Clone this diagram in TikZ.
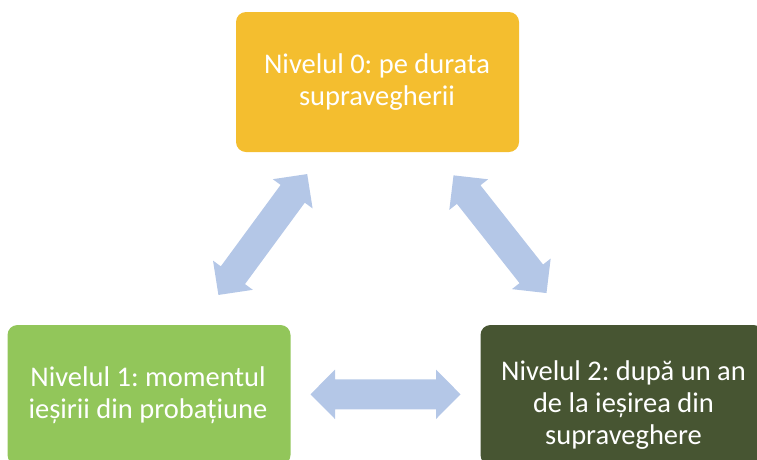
\documentclass[tikz,border=0pt]{standalone}
\usepackage{fontspec}
\setmainfont{Carlito}
\frenchspacing
\definecolor{goldbox}{HTML}{F4BE2F}
\definecolor{greenbox}{HTML}{92C65A}
\definecolor{darkbox}{HTML}{475532}
\definecolor{arrowblue}{HTML}{B4C7E7}
\tikzset{
  levelbox/.style={rounded corners=10pt, minimum width=283pt, minimum height=140pt,
    inner sep=0pt, draw=none},
  leveltext/.style={text=white, align=center, inner sep=0pt,
    font=\fontsize{28.5pt}{32pt}\selectfont},
  dblarr/.pic={
    \fill[arrowblue] (-75pt,0pt) -- (-50.5pt,24.7pt) -- (-50.5pt,15pt) -- (50.5pt,15pt)
      -- (50.5pt,24.7pt) -- (75pt,0pt) -- (50.5pt,-24.7pt) -- (50.5pt,-15pt)
      -- (-50.5pt,-15pt) -- (-50.5pt,-24.7pt) -- cycle;
  }
}
\begin{document}
\begin{tikzpicture}[x=1pt,y=1pt]
\useasboundingbox (0,0) rectangle (757,-459);
\clip (0,0) rectangle (757,-459);
% boxes
\node[levelbox, fill=goldbox] (top) at (377.5,-82) {};
\node[leveltext] (toptext) at (377,-82) {Nivelul 0: pe durata\\supravegherii};
\node[levelbox, fill=greenbox] (left) at (149,-395) {};
\node[leveltext] (lefttext) at (148,-395) {Nivelul 1: momentul\\ieșirii din probațiune};
\node[levelbox, fill=darkbox] (right) at (622,-395) {};
\node[leveltext] (righttext) at (623.5,-405) {Nivelul 2: după un an\\de la ieșirea din\\supraveghere};
% arrows
\pic[rotate=53.7] at (262.8,-234.5) {dblarr};
\pic[rotate=-51.7] at (500,-234.2) {dblarr};
\pic at (385.5,-394.3) {dblarr};
\end{tikzpicture}
\end{document}
